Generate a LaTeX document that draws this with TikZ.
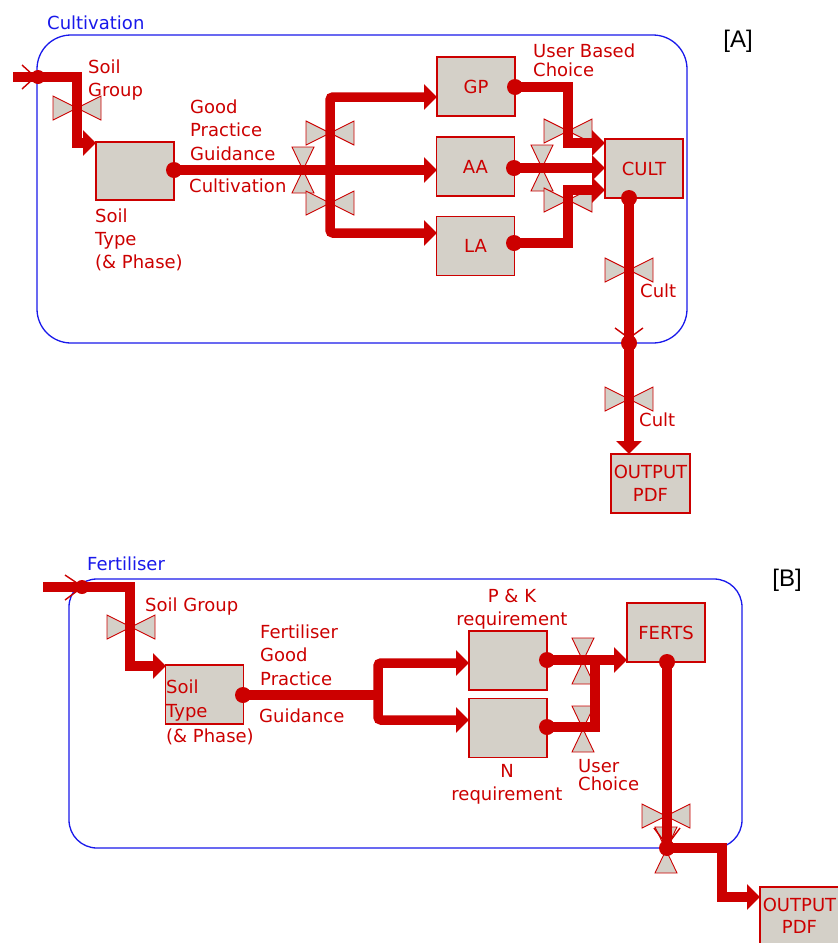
\documentclass[tikz,border=0pt]{standalone}
\usepackage{fontspec}
\setmainfont{DejaVu Sans}
\newfontfamily\tagfont{Liberation Sans}
\usetikzlibrary{arrows.meta}
\definecolor{flowred}{RGB}{204,0,0}
\definecolor{boxgray}{RGB}{212,208,200}
\definecolor{bndblue}{RGB}{25,25,235}
\newcommand\lblfont{\fontsize{18}{23.5}\selectfont}
\newcommand\tightfont{\fontsize{18}{19.5}\selectfont}
\newcommand\widefont{\fontsize{18}{24.5}\selectfont}
\tikzset{
  boundary/.style={draw=bndblue, line width=1.3pt, rounded corners=#1},
  stockbox/.style={draw=flowred, fill=boxgray, line width=1.2pt, minimum width=78pt,
    minimum height=59pt, inner sep=0pt, text=flowred, font=\lblfont, align=center},
  flow/.style={draw=flowred, line width=9.5pt},
  flowarrow/.style={flow, -{Triangle[length=13pt,width=25pt]}},
  dotnode/.style={circle, fill=flowred, inner sep=0pt, minimum size=16pt},
  chev/.style={draw=flowred, line width=1.4pt},
  valvestyle/.style={draw=flowred, fill=boxgray, line width=0.9pt, line join=miter},
  lbl/.style={text=flowred, font=\lblfont, inner sep=0pt, anchor=base west, align=left},
  lblc/.style={text=flowred, font=\lblfont, inner sep=0pt, anchor=base, align=center},
  sectlbl/.style={text=bndblue, font=\lblfont, inner sep=0pt, anchor=base west},
  tagstyle/.style={text=black, font=\tagfont\fontsize{24}{28}\selectfont, inner sep=0pt},
  hvalve/.pic={\filldraw[valvestyle] (-24,-12) -- (0,0) -- (-24,12) -- cycle
      (24,-12) -- (0,0) -- (24,12) -- cycle;},
  vvalve/.pic={\filldraw[valvestyle] (-11,-23) -- (0,0) -- (11,-23) -- cycle
      (-11,23) -- (0,0) -- (11,23) -- cycle;}
}
\begin{document}
\begin{tikzpicture}[x=1pt,y=-1pt]
\useasboundingbox (0,0) rectangle (838,943);
\clip (0,0) rectangle (838,943);
\fill[white] (0,0) rectangle (838,943);

% ---------- boundaries ----------
\draw[boundary=34] (37,35) rectangle (687,343);
\draw[boundary=28] (69,579) rectangle (742,848);
\node[sectlbl] (secA) at (47,29) {Cultivation};
\node[sectlbl] (secB) at (87,570) {Fertiliser};
\node[tagstyle] (tagA) at (738,41.5) {[A]};
\node[tagstyle] (tagB) at (787,580.5) {[B]};

% ---------- stocks ----------
\node[stockbox, minimum height=58pt] (soilA) at (135,171) {};
\node[stockbox] (gp) at (476,86.5) {GP};
\node[stockbox] (aa) at (475.5,166.5) {AA};
\node[stockbox] (la) at (475.5,246) {LA};
\node[stockbox] (cult) at (644,168.5) {CULT};
\node[stockbox, minimum width=79pt, font=\fontsize{18}{23}\selectfont] (outA) at (650.5,483.5) {OUTPUT\\PDF};

\node[stockbox] (soilB) at (204.5,694.5) {};
\node[stockbox] (pk) at (508,660.5) {};
\node[stockbox] (nreq) at (508,728) {};
\node[stockbox] (ferts) at (666,632.5) {FERTS};
\node[stockbox, minimum width=79pt, minimum height=58pt, font=\fontsize{18}{22}\selectfont] (outB) at (799.5,916) {OUTPUT\\PDF};

% ---------- valves ----------
\pic at (77,108) {hvalve};
\pic at (303,170) {vvalve};
\pic at (330,133) {hvalve};
\pic at (330,203) {hvalve};
\pic at (568,131) {hvalve};
\pic at (542,168) {vvalve};
\pic at (568,200) {hvalve};
\pic at (629,270) {hvalve};
\pic at (629,399) {hvalve};

\pic at (131,627) {hvalve};
\pic at (583,661) {vvalve};
\pic at (583,729) {vvalve};
\pic at (666,816) {hvalve};
\pic at (666,850) {vvalve};

% ---------- coordinates ----------
\coordinate (inA) at (13,77);
\coordinate (bA) at (38,77);
\coordinate (soilAin) at (96,143);
\coordinate (oSA) at (174,170);
\coordinate (jA) at (330,170);
\coordinate (gpIn) at (437,97);
\coordinate (aaIn) at (437,170);
\coordinate (laIn) at (437,233);
\coordinate (oGP) at (515,87);
\coordinate (oAA) at (514,168);
\coordinate (oLA) at (514,243);
\coordinate (cultIn1) at (605,143);
\coordinate (cultIn2) at (605,168);
\coordinate (cultIn3) at (605,190);
\coordinate (oCult) at (629,198);
\coordinate (bA2) at (629,343);
\coordinate (outAin) at (629,454);

\coordinate (inB) at (43,587);
\coordinate (bB) at (82,587);
\coordinate (soilBin) at (166,666);
\coordinate (oSB) at (243,695);
\coordinate (jB) at (378,695);
\coordinate (pkIn) at (469,663);
\coordinate (nIn) at (469,720);
\coordinate (oPK) at (547,660);
\coordinate (oN) at (547,727);
\coordinate (mB) at (595,660);
\coordinate (fertsIn) at (627,660);
\coordinate (oF) at (667,662);
\coordinate (bB2) at (667,848);
\coordinate (outBin) at (760,897);

% ---------- flows A ----------
\draw[flow] (inA) -- (bA);
\draw[chev] (22,65) -- (33,75) (22,89) -- (33,79);
\draw[flowarrow] (bA) -- (77,77) -- (77,143) -- (soilAin);
\draw[flowarrow] (oSA) -- (aaIn);
\draw[flowarrow, rounded corners=3pt] (jA) -- (330,97) -- (gpIn);
\draw[flowarrow, rounded corners=3pt] (jA) -- (330,233) -- (laIn);
\draw[flowarrow] (oGP) -- (568,87) -- (568,143) -- (cultIn1);
\draw[flowarrow] (oAA) -- (cultIn2);
\draw[flowarrow] (oLA) -- (568,243) -- (568,190) -- (cultIn3);
\draw[flow] (oCult) -- (bA2);
\draw[chev] (615,328) -- (626,336) (643,328) -- (632,336);
\draw[flowarrow] (bA2) -- (outAin);

% ---------- flows B ----------
\draw[flow] (inB) -- (bB);
\draw[chev] (65,575) -- (77,583) (65,600) -- (77,591);
\draw[flowarrow] (bB) -- (130,587) -- (130,666) -- (soilBin);
\draw[flow] (oSB) -- (jB);
\draw[flowarrow, rounded corners=3pt] (jB) -- (378,663) -- (pkIn);
\draw[flowarrow, rounded corners=3pt] (jB) -- (378,720) -- (nIn);
\draw[flowarrow] (oPK) -- (fertsIn);
\draw[flow] (oN) -- (595,727) -- (mB);
\draw[flow] (oF) -- (bB2);
\draw[chev] (654,828) -- (663,840) (680,828) -- (671,840);
\draw[flowarrow] (bB2) -- (722,848) -- (722,897) -- (outBin);

% ---------- dots ----------
\node[dotnode, minimum size=14pt] (dA) at (bA) {};
\node[dotnode] (dSA) at (oSA) {};
\node[dotnode] (dGP) at (oGP) {};
\node[dotnode] (dAA) at (oAA) {};
\node[dotnode] (dLA) at (oLA) {};
\node[dotnode] (dCult) at (oCult) {};
\node[dotnode] (dA2) at (bA2) {};
\node[dotnode, minimum size=14pt] (dB) at (bB) {};
\node[dotnode] (dSB) at (oSB) {};
\node[dotnode] (dPK) at (oPK) {};
\node[dotnode] (dN) at (oN) {};
\node[dotnode] (dF) at (oF) {};
\node[dotnode] (dB2) at (bB2) {};

% ---------- labels (anchor = baseline of last line) ----------
\node[lbl] (lSGA) at (88,96.5) {Soil\\Group};
\node[lbl] (lGPG) at (190,160) {Good\\Practice\\Guidance};
\node[lbl] (lCu) at (189,192) {Cultivation};
\node[lbl, font=\fontsize{18}{23}\selectfont] (lSTA) at (95,268) {Soil\\Type\\(\& Phase)};
\node[lbl, font=\tightfont] (lUBC) at (533,76.5) {User Based\\Choice};
\node[lbl] (lC1) at (640,297) {Cult};
\node[lbl] (lC2) at (639,426) {Cult};

\node[lbl] (lSGB) at (145,611) {Soil Group};
\node[lbl] (lFGP) at (260,685) {Fertiliser\\Good\\Practice};
\node[lbl] (lGB) at (259,722) {Guidance};
\node[lbl, font=\widefont] (lSTB) at (166,742) {Soil\\Type\\(\& Phase)};
\node[lblc, font=\fontsize{18}{23}\selectfont] (lPK) at (512,625) {P \& K\\requirement};
\node[lblc, font=\fontsize{18}{23}\selectfont] (lN) at (507,800) {N\\requirement};
\node[lbl, font=\fontsize{18}{18.5}\selectfont] (lUC) at (578,790.5) {User\\Choice};
\end{tikzpicture}
\end{document}
